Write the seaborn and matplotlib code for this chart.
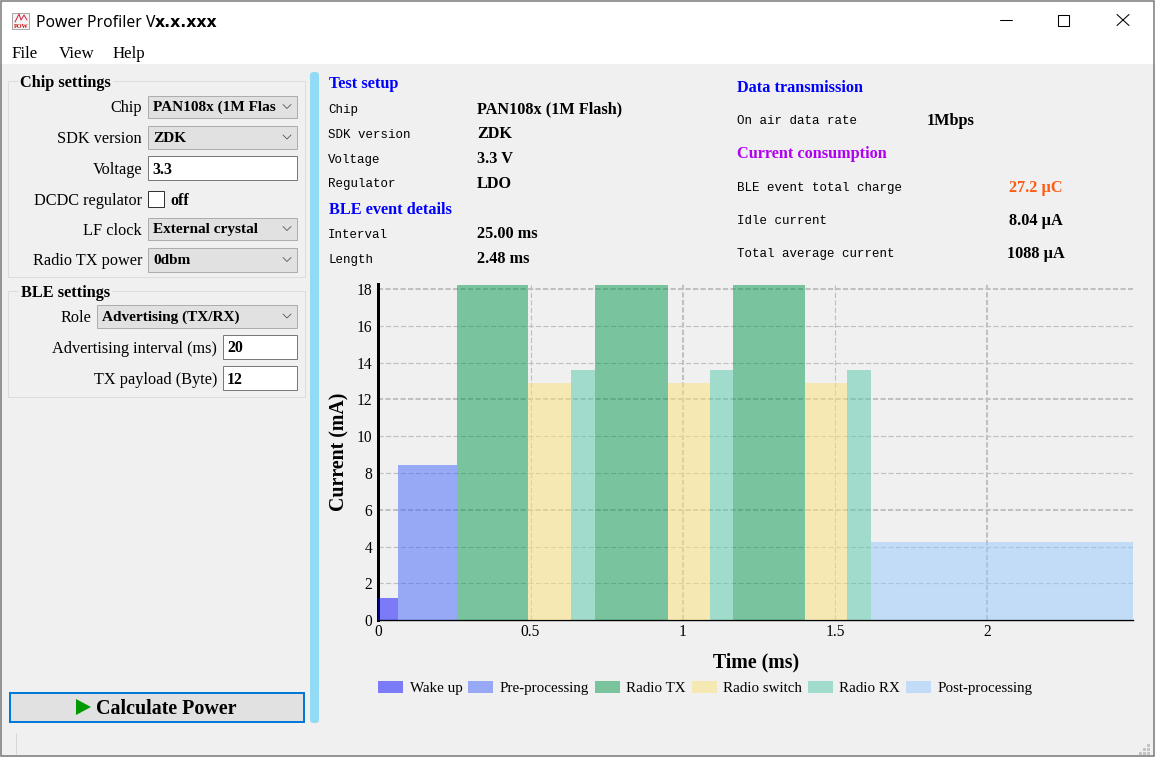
import matplotlib
matplotlib.use("Agg")
import matplotlib.pyplot as plt
from matplotlib.patches import Rectangle, FancyBboxPatch, Polygon
import pandas as pd
import seaborn as sns

phases = ["Wake up", "Pre-processing", "Radio TX", "Radio switch", "Radio RX", "Radio TX", "Radio switch",
          "Radio RX", "Radio TX", "Radio switch", "Radio RX", "Post-processing"]
edges = [0, 0.065, 0.26, 0.492, 0.634, 0.712, 0.95, 1.09, 1.166, 1.402, 1.54, 1.62, 2.48]
currents = [1.2, 8.42, 18.2, 12.88, 13.59, 18.2, 12.88, 13.59, 18.2, 12.88, 13.59, 4.24]
phase_colors = {"Wake up": "#0808FF", "Pre-processing": "#4064FA", "Radio TX": "#049A4E",
                "Radio switch": "#FCE276", "Radio RX": "#54C8AA", "Post-processing": "#96C8FC"}
x_ticks = [0, 0.5, 1, 1.5, 2]
x_tick_labels = ["0", "0.5", "1", "1.5", "2"]
y_ticks = [0, 2, 4, 6, 8, 10, 12, 14, 16, 18]
thick_x_grid = [1, 2]
thick_y_grid = [6, 12, 18]

W, H = 1155, 757
BG = "#F0F0F0"
SERIF = "Liberation Serif"
MONO = "Liberation Mono"

sns.set_theme(style="whitegrid", rc={"font.family": SERIF, "axes.facecolor": "none", "figure.facecolor": BG,
                                     "lines.scale_dashes": False})
fig = plt.figure(figsize=(W / 100, H / 100), dpi=100, facecolor=BG)

# window chrome (pixel coordinates)
ui = fig.add_axes([0, 0, 1, 1], zorder=0)
ui.set_xlim(0, W); ui.set_ylim(H, 0); ui.axis("off")


def rect(x0, y0, x1, y1, fc="none", ec="none", lw=0.72, z=1):
    # one-pixel outlines snap to the pixel row above an integer y, so step down one row
    dy = 1 if ec != "none" and lw < 1 else 0
    ui.add_patch(Rectangle((x0, y0 + dy), x1 - x0, y1 - y0, fc=fc, ec=ec, lw=lw, zorder=z))


def txt(x, y, s, size=11.7, bold=False, ha="left", color="black", family=SERIF):
    ui.text(x, y, s, fontsize=size, fontweight="bold" if bold else "normal", ha=ha, va="center_baseline",
            color=color, family=family, zorder=5)


rect(0, 0, W, 64, fc="white")
rect(0.5, 0.5, W - 1, H - 1, ec="#7A7A7A", lw=1.1, z=6)

# title bar
rect(12, 12, 29, 28, fc="#F4F4F4", ec="#999999", lw=0.6)
ui.plot([15, 19, 21, 24, 27], [22, 14, 20, 15, 20], color="#D02040", lw=0.7, zorder=3)
txt(21, 25.5, "POW", size=4.5, bold=True, ha="center", color="#D01010")
txt(36, 21, "Power Profiler V", size=11.3, family="Noto Sans")
txt(155, 21, "x.x.xxx", size=11.3, bold=True, family="DejaVu Sans")
ui.plot([1000, 1012], [19.5, 19.5], color="black", lw=0.75)
rect(1058, 14, 1069, 25, ec="black", lw=0.75)
ui.plot([1117, 1129], [14.5, 25.5], color="black", lw=0.75)
ui.plot([1117, 1129], [25.5, 14.5], color="black", lw=0.75)
txt(12, 51.5, "File", size=12.2)
txt(59, 51.5, "View", size=12.2)
txt(113, 51.5, "Help", size=12.2)

# group boxes
rect(8, 80, 305, 276, ec="#DCDCDC")
rect(18, 76, 113, 88, fc=BG, z=2)
txt(20, 81, "Chip settings", bold=True)
rect(8, 290, 305, 396, ec="#DCDCDC")
rect(18, 286, 112, 298, fc=BG, z=2)
txt(21, 291, "BLE settings", bold=True)


def combo(x0, y0, x1, y1, s):
    rect(x0, y0, x1 - 1, y1 - 1, fc="#E1E1E1", ec="#ADADAD")
    txt(x0 + 5, (y0 + y1) / 2 - .5, s, size=11, bold=True)
    ui.plot([x1 - 15, x1 - 11, x1 - 7], [(y0 + y1) / 2 - 2, (y0 + y1) / 2 + 2, (y0 + y1) / 2 - 2],
            color="#555555", lw=0.6, zorder=3)


def edit(x0, y0, x1, y1, s):
    rect(x0, y0, x1 - 1, y1 - 1, fc="white", ec="#7A7A7A")
    txt(x0 + 4, (y0 + y1) / 2, s, size=11.4, bold=True)


txt(142, 106, "Chip", ha="right")
combo(148, 95, 298, 118, "PAN108x (1M Flas")
txt(142, 137, "SDK version", ha="right")
combo(148, 125, 298, 149, "ZDK")
txt(142, 168, "Voltage", ha="right")
edit(148, 155, 298, 180, "3.3")
txt(142, 199, "DCDC regulator", ha="right")
rect(148, 190, 164, 206, fc="white", ec="#333333")
txt(170, 199, "off", size=11.4, bold=True)
txt(142, 229, "LF clock", ha="right")
combo(148, 217, 298, 240, "External crystal")
txt(142, 259, "Radio TX power", ha="right")
combo(148, 247, 298, 272, "0dbm")
txt(91, 316, "Role", ha="right")
combo(97, 304, 298, 328, "Advertising (TX/RX)")
txt(217, 347, "Advertising interval (ms)", ha="right")
edit(223, 334, 298, 359, "20")
txt(217, 378, "TX payload (Byte)", ha="right")
edit(223, 365, 298, 390, "12")

# calculate button
rect(10, 693, 304, 722, fc="#E1E1E1", ec="#0078D7", lw=1.45)
ui.add_patch(Polygon([[76, 699], [91, 707], [76, 715]], fc="#009900", ec="none", zorder=4))
txt(96, 707, "Calculate Power", size=14.4, bold=True)

# splitter
ui.add_patch(FancyBboxPatch((310, 72), 9, 651, boxstyle="round,pad=0,rounding_size=3.5", fc="#92DBF7", ec="none", zorder=2))

# status bar and grip
ui.plot([15.5, 15.5], [733, 754], color="#D8D8D8", lw=0.7)
for gx, gy in [(1147, 744), (1143, 748), (1147, 748), (1139, 752), (1143, 752), (1147, 752)]:
    rect(gx, gy, gx + 3, gy + 3, fc="#C4C4C4")

# info panel
HB = "#0000FF"
txt(329, 82.5, "Test setup", bold=True, color=HB)
for y, a, b in [(108, "Chip", "PAN108x (1M Flash)"), (133, "SDK version", "ZDK"), (158, "Voltage", "3.3 V"),
                (183, "Regulator", "LDO"), (233, "Interval", "25.00 ms"), (258, "Length", "2.48 ms")]:
    txt(328, y, a, size=9, family=MONO)
    txt(477, y - 0.7, b, bold=True)
txt(329, 207.5, "BLE event details", bold=True, color=HB)
txt(737, 86.3, "Data transmission", bold=True, color=HB)
txt(737, 120, "On air data rate", size=9, family=MONO)
txt(927, 119.3, "1Mbps", bold=True)
txt(737, 152.3, "Current consumption", bold=True, color="#B000F0")
txt(737, 187, "BLE event total charge", size=9, family=MONO)
txt(1036, 186.3, "27.2 µC", bold=True, ha="center", color="#FF5A14")
txt(737, 220, "Idle current", size=9, family=MONO)
txt(1036, 219.3, "8.04 µA", bold=True, ha="center")
txt(737, 253, "Total average current", size=9, family=MONO)
txt(1036, 252.3, "1088 µA", bold=True, ha="center")

# chart
L, R, T, B = 378.3, 1133.3, 284, 620.2
ax = fig.add_axes([L / W, 1 - B / H, (R - L) / W, (B - T) / H], zorder=1)
ax.set_facecolor("none")
df = pd.DataFrame({"start": edges[:-1], "current": currents, "phase": phases})
sns.histplot(data=df, x="start", weights="current", hue="phase", bins=edges, multiple="layer",
             palette=phase_colors, alpha=0.5, linewidth=0, ax=ax, zorder=3)
ax.set_xlim(edges[0], edges[-1])
ax.set_ylim(0, 18.27)
ax.set_xticks(x_ticks, x_tick_labels)
ax.set_yticks(y_ticks)
ax.set_axisbelow(True)
ax.grid(True, color="#C0C0C0", lw=0.85, ls=(0, (3.7, 1.7)))
for value, tick in zip(x_ticks, ax.xaxis.get_major_ticks()):
    tick.gridline.set_linewidth(1.45 if value in thick_x_grid else 0.85)
for value, tick in zip(y_ticks, ax.yaxis.get_major_ticks()):
    tick.gridline.set_linewidth(1.45 if value in thick_y_grid else 0.85)
for s in ["top", "right"]:
    ax.spines[s].set_visible(False)
ax.spines["left"].set_color("black"); ax.spines["left"].set_linewidth(2.16)
ax.spines["bottom"].set_color("black"); ax.spines["bottom"].set_linewidth(1.0)
ax.tick_params(axis="x", length=0, labelsize=11.2, labelcolor="black", pad=3)
ax.tick_params(axis="y", length=0, labelsize=11.2, labelcolor="black", pad=4.4)
ax.set_xlabel("Time (ms)", fontsize=14.2, fontweight="bold", color="black", labelpad=9)
ax.set_ylabel("Current (mA)", fontsize=14.3, fontweight="bold", color="black", labelpad=5)
sns.move_legend(ax, "upper left", bbox_to_anchor=(0, -0.181), ncol=6, frameon=False, title=None,
                fontsize=10.8, handlelength=1.67, handleheight=0.85, handletextpad=0.42,
                columnspacing=0.39, borderpad=0, borderaxespad=0, labelcolor="black")

fig.savefig("out.png", dpi=100, facecolor=BG)
